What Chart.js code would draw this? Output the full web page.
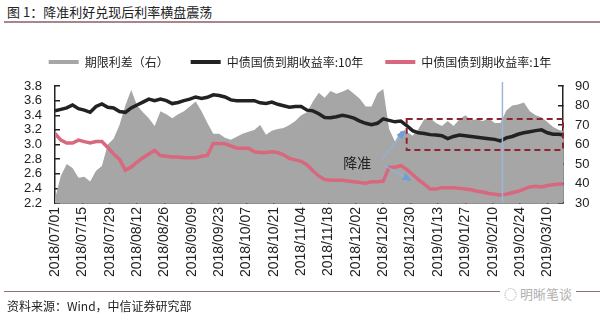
<!DOCTYPE html>
<html>
<head>
<meta charset="utf-8">
<script src="https://cdn.jsdelivr.net/npm/chart.js@4.4.1/dist/chart.umd.min.js"></script>
<style>
  body { margin: 0; width: 600px; height: 326px; overflow: hidden; position: relative; background: #fff;
         font-family: "Noto Sans CJK SC", sans-serif; color: #222; }
  #title { position: absolute; left: 7px; top: 2px; font-size: 13px; }
  #tline { position: absolute; left: 4px; top: 21px; width: 596px; height: 2px; background: #a8868c; }
  #fline { position: absolute; left: 4px; top: 291px; width: 596px; height: 1px; background: #8c7474; }
  #src { position: absolute; left: 7px; top: 297px; font-size: 12px; }
  #wm { position: absolute; left: 500px; top: 284px; font-size: 13px; color: #b0b0b0; background: #fff; padding: 0 4px; }
  canvas { position: absolute; left: 0; top: 0; }
</style>
</head>
<body>
<div id="title">图 1：降准利好兑现后利率横盘震荡</div>
<div id="tline"></div>
<canvas id="chart" width="600" height="326"></canvas>
<div id="fline"></div>
<div id="src">资料来源：Wind，中信证券研究部</div>
<div id="wm">◌ 明晰笔谈</div>
<script>
// x = calendar days since 2018/07/01
const tickLabels = ['2018/07/01', '2018/07/15', '2018/07/29', '2018/08/12', '2018/08/26', '2018/09/09',
    '2018/09/23', '2018/10/07', '2018/10/21', '2018/11/04', '2018/11/18', '2018/12/02', '2018/12/16',
    '2018/12/30', '2019/01/13', '2019/01/27', '2019/02/10', '2019/02/24', '2019/03/10'];

const days = [0, 3, 6, 9, 12, 15, 18, 21, 24, 27,
    30, 33, 36, 39, 42, 45, 48, 51, 54, 57,
    60, 63, 66, 69, 72, 75, 78, 81, 84, 87,
    90, 93, 96, 99, 102, 105, 108, 111, 114, 117,
    120, 123, 126, 129, 132, 135, 138, 141, 144, 147,
    150, 153, 156, 159, 162, 165, 168, 171, 174, 177,
    180, 183, 186, 189, 192, 195, 198, 201, 204, 207,
    210, 213, 216, 219, 222, 225, 228, 231, 234, 237,
    240, 243, 246, 249, 252, 255, 258, 260];

// 期限利差 (bp, right axis)
const spread = [32, 44, 50, 48, 43, 43.5, 41, 46.5, 49, 60,
    63, 70, 80, 88, 80, 76.5, 73.5, 69.5, 77, 75.5,
    73.5, 75.5, 77, 79.5, 82, 77, 71, 65.5, 65.5, 63.5,
    62.5, 64, 65.5, 66.5, 67.5, 70, 65, 67, 68, 68.5,
    70, 72, 75, 76.5, 82, 86.5, 84, 87.5, 86, 87,
    88.5, 86, 83.5, 79.5, 79.5, 86.3, 88.5, 68, 61.5, 67,
    66.5, 64.5, 68, 73, 73.5, 71, 69.5, 72, 69.5, 73,
    75, 72.5, 73, 72, 73.5, 71, 71, 77.5, 80, 80.5,
    81.5, 77, 75, 74, 71.5, 69, 67.5, 67];

// 中债国债到期收益率:10年
const yield10 = [3.46, 3.48, 3.50, 3.54, 3.49, 3.47, 3.44, 3.52, 3.555, 3.51,
    3.50, 3.45, 3.44, 3.50, 3.54, 3.58, 3.62, 3.60, 3.62, 3.60,
    3.56, 3.575, 3.60, 3.62, 3.65, 3.63, 3.645, 3.68, 3.67, 3.65,
    3.61, 3.60, 3.60, 3.60, 3.60, 3.57, 3.56, 3.58, 3.55, 3.53,
    3.51, 3.52, 3.52, 3.47, 3.46, 3.42, 3.37, 3.365, 3.38, 3.40,
    3.385, 3.36, 3.32, 3.29, 3.27, 3.29, 3.35, 3.33, 3.31, 3.32,
    3.26, 3.19, 3.16, 3.15, 3.135, 3.13, 3.12, 3.08, 3.11, 3.13,
    3.12, 3.11, 3.10, 3.09, 3.08, 3.07, 3.05, 3.09, 3.11, 3.14,
    3.16, 3.175, 3.19, 3.20, 3.16, 3.14, 3.14, 3.13];

// 中债国债到期收益率:1年
const yield1 = [3.15, 3.06, 3.02, 3.02, 3.06, 3.04, 3.02, 3.04, 3.04, 2.96,
    2.87, 2.80, 2.65, 2.69, 2.76, 2.82, 2.87, 2.92, 2.85, 2.84,
    2.83, 2.83, 2.82, 2.82, 2.82, 2.84, 2.85, 3.015, 3.015, 3.01,
    2.98, 2.95, 2.95, 2.95, 2.90, 2.89, 2.89, 2.90, 2.89, 2.86,
    2.81, 2.79, 2.77, 2.72, 2.64, 2.57, 2.52, 2.51, 2.51, 2.51,
    2.50, 2.49, 2.48, 2.47, 2.49, 2.49, 2.50, 2.69, 2.69, 2.71,
    2.66, 2.59, 2.52, 2.46, 2.39, 2.39, 2.41, 2.41, 2.41, 2.40,
    2.39, 2.38, 2.36, 2.35, 2.33, 2.32, 2.31, 2.32, 2.34, 2.36,
    2.39, 2.42, 2.43, 2.42, 2.44, 2.45, 2.46, 2.46];

// annotation positions in data units (day, left-axis yield)
const rrrBox = { x0: 180, x1: 260, yTop: 3.35, yBottom: 2.925 };
const markerDay = 229;
const rrrLabel = { text: '降准', x: 154.7, y: 2.75 };
const rrrArrows = [
    { from: [167.4, 2.80], to: [179.3, 3.20] },
    { from: [168.2, 2.72], to: [182.6, 2.50] }
];

const toPts = vals => vals.map((v, i) => ({ x: days[i], y: v }));
const yFont = { family: 'Liberation Sans, Arial', size: 13 };
const xFont = { family: 'Liberation Sans, Arial', size: 14 };

const annotations = {
    id: 'annotations',
    afterDatasetsDraw(chart) {
        const { ctx, chartArea, scales } = chart;
        const px = d => scales.x.getPixelForValue(d);
        const py = v => scales.yL.getPixelForValue(v);
        ctx.save();
        // dashed box
        ctx.strokeStyle = '#8e2230';
        ctx.lineWidth = 2;
        ctx.setLineDash([6, 4]);
        ctx.strokeRect(px(rrrBox.x0), py(rrrBox.yTop), px(rrrBox.x1) - px(rrrBox.x0), py(rrrBox.yBottom) - py(rrrBox.yTop));
        ctx.setLineDash([]);
        // vertical marker
        ctx.strokeStyle = '#9ab8d6';
        ctx.lineWidth = 1.5;
        ctx.beginPath();
        ctx.moveTo(px(markerDay), chartArea.top - 4);
        ctx.lineTo(px(markerDay), chartArea.bottom);
        ctx.stroke();
        // arrows
        ctx.strokeStyle = '#8db3e2';
        ctx.fillStyle = '#6f9fd8';
        ctx.lineWidth = 1.2;
        rrrArrows.forEach(a => {
            const x0 = px(a.from[0]), y0 = py(a.from[1]);
            const x1 = px(a.to[0]), y1 = py(a.to[1]);
            const ang = Math.atan2(y1 - y0, x1 - x0);
            ctx.beginPath();
            ctx.moveTo(x0, y0);
            ctx.lineTo(x1, y1);
            ctx.stroke();
            ctx.beginPath();
            ctx.moveTo(x1, y1);
            ctx.lineTo(x1 - 10 * Math.cos(ang - 0.4), y1 - 10 * Math.sin(ang - 0.4));
            ctx.lineTo(x1 - 10 * Math.cos(ang + 0.4), y1 - 10 * Math.sin(ang + 0.4));
            ctx.closePath();
            ctx.fill();
        });
        // label
        ctx.fillStyle = '#222';
        ctx.font = '14px "Noto Sans CJK SC"';
        ctx.textAlign = 'center';
        ctx.textBaseline = 'middle';
        ctx.fillText(rrrLabel.text, px(rrrLabel.x), py(rrrLabel.y));
        ctx.restore();
    },
    beforeLayout(chart) {
        // fixed legend height so the plot top lands where the original's does
        const lg = chart.legend;
        if (lg && !lg._fitPatched) {
            const fit = lg.fit;
            lg.fit = function () { fit.call(this); this.height = 52; };
            lg._fitPatched = true;
        }
    }
};

new Chart(document.getElementById('chart'), {
    type: 'line',
    data: {
        datasets: [{
            label: '期限利差（右）',
            data: toPts(spread),
            yAxisID: 'yR',
            backgroundColor: '#a6a6a6',
            borderColor: '#a6a6a6',
            borderWidth: 0,
            fill: 'start',
            pointRadius: 0,
            order: 3
        }, {
            label: '中债国债到期收益率:10年',
            data: toPts(yield10),
            yAxisID: 'yL',
            borderColor: '#222222',
            backgroundColor: '#222222',
            borderWidth: 3.5,
            pointRadius: 0,
            fill: false,
            order: 1
        }, {
            label: '中债国债到期收益率:1年',
            data: toPts(yield1),
            yAxisID: 'yL',
            borderColor: '#d7687e',
            backgroundColor: '#d7687e',
            borderWidth: 3.5,
            pointRadius: 0,
            fill: false,
            order: 2
        }]
    },
    options: {
        responsive: false,
        animation: false,
        layout: { padding: { top: 34, left: 0, right: 0, bottom: 0 } },
        plugins: {
            tooltip: { enabled: false },
            legend: {
                position: 'top',
                labels: {
                    boxWidth: 30,
                    boxHeight: 4,
                    padding: 22,
                    color: '#222',
                    font: { family: 'Noto Sans CJK SC', size: 12 },
                    sort: (a, b) => a.datasetIndex - b.datasetIndex,
                    generateLabels: chart => Chart.defaults.plugins.legend.labels.generateLabels(chart)
                        .map(item => Object.assign(item, { lineWidth: 0 }))
                }
            }
        },
        scales: {
            x: {
                type: 'linear',
                min: 0,
                max: 260,
                afterFit: s => { s.height = 123; },
                ticks: {
                    stepSize: 14,
                    includeBounds: false,
                    autoSkip: false,
                    maxRotation: 90,
                    minRotation: 90,
                    padding: 9,
                    color: '#222',
                    font: xFont,
                    callback: v => tickLabels[v / 14] || ''
                },
                grid: { drawOnChartArea: false, tickLength: -5, color: '#222', lineWidth: 1.5 },
                border: { color: '#222', width: 1.5 }
            },
            yL: {
                position: 'left',
                min: 2.2,
                max: 3.8,
                afterFit: s => { s.width = 55; },
                ticks: { stepSize: 0.2, autoSkip: false, padding: 18, color: '#222', font: yFont, callback: v => v.toFixed(1) },
                grid: { drawOnChartArea: false, tickLength: -5, color: '#222', lineWidth: 1.5 },
                border: { color: '#222', width: 1.5 }
            },
            yR: {
                position: 'right',
                min: 30,
                max: 90,
                afterFit: s => { s.width = 37; },
                ticks: { stepSize: 10, autoSkip: false, padding: 17, color: '#222', font: yFont },
                grid: { drawOnChartArea: false, tickLength: -5, color: '#222', lineWidth: 1.5 },
                border: { color: '#222', width: 1.5 }
            }
        }
    },
    plugins: [annotations]
});
</script>
</body>
</html>
